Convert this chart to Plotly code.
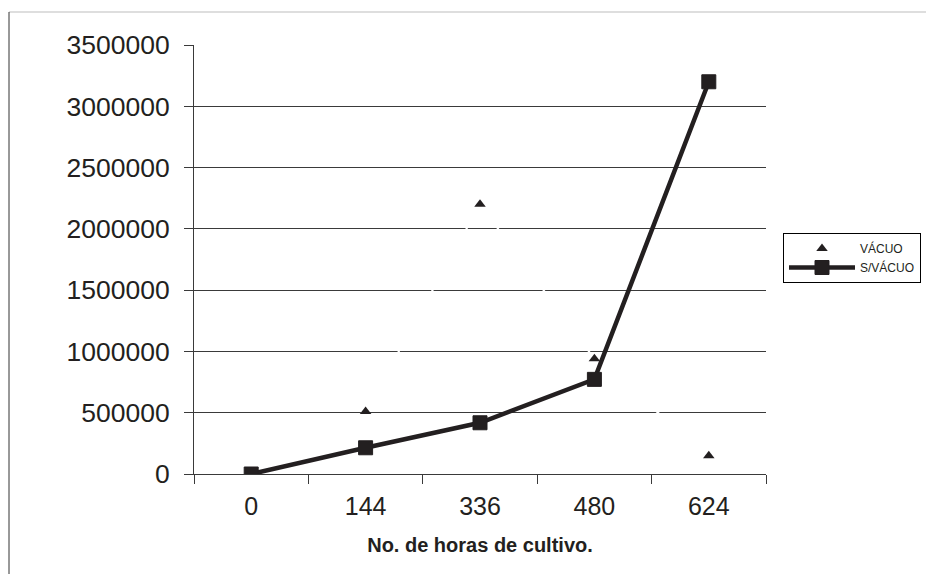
import plotly.graph_objects as go

horas = ["0", "144", "336", "480", "624"]
vacuo = [0, 510000, 2200000, 940000, 148000]
s_vacuo = [0, 214000, 418000, 772000, 3200000]
y_ticks = [0, 500000, 1000000, 1500000, 2000000, 2500000, 3000000, 3500000]

INK = "#231f20"
AX = "#3a3a3a"
FONT = "Liberation Sans, Arial, sans-serif"

fig = go.Figure()
fig.add_trace(go.Scatter(
    x=horas, y=vacuo, name="VÁCUO", mode="lines+markers",
    line=dict(color="white", width=2),
    marker=dict(symbol="triangle-up", size=10, color=INK, line=dict(width=0)),
))
fig.add_trace(go.Scatter(
    x=horas, y=s_vacuo, name="S/VÁCUO", mode="lines+markers",
    line=dict(color=INK, width=4.5),
    marker=dict(symbol="square", size=14, color=INK, line=dict(color=INK, width=1)),
))

# page body has an 8px margin at left/top; work in page coordinates and convert
OFF = 8
W, H = 934 - OFF, 574 - OFF
PL, PR, PT, PB = 194, 766, 45, 474          # plot area in page pixels
L, R, T, B = PL - OFF, W - (PR - OFF), PT - OFF, H - (PB - OFF)
pw, ph = W - L - R, H - T - B

def px(x):
    return (x - OFF - L) / pw

def py(y):
    return (H - B - (y - OFF)) / ph

fig.update_layout(
    width=W, height=H,
    margin=dict(l=L, r=R, t=T, b=B, pad=0),
    paper_bgcolor="white", plot_bgcolor="white",
    font=dict(family=FONT, color=INK),
    showlegend=True,
    legend=dict(
        x=px(783), y=py(233), xanchor="left", yanchor="top",
        bordercolor="black", borderwidth=1, bgcolor="white",
        font=dict(size=12, family=FONT, color=INK),
        itemwidth=66,
        tracegroupgap=0,
    ),
    xaxis=dict(
        type="category", categoryorder="array", categoryarray=horas,
        range=[-0.5, len(horas) - 0.5],
        tickson="boundaries", ticks="outside", ticklen=9, tickcolor=AX, tickwidth=1,
        showline=True, linecolor=AX, linewidth=1, showgrid=False, zeroline=False,
        tickfont=dict(size=25, family=FONT, color=INK),
        ticklabelstandoff=10,
        title=dict(text="<b>No. de horas de cultivo.</b>",
                   font=dict(size=20, family=FONT, color=INK), standoff=18),
    ),
    yaxis=dict(
        range=[0, 3500000], tickvals=y_ticks, tickformat="d",
        ticks="outside", ticklen=9, tickcolor=AX, tickwidth=1,
        showline=True, linecolor=AX, linewidth=1,
        showgrid=True, gridcolor=AX, gridwidth=1, zeroline=False,
        tickfont=dict(size=26.5, family=FONT, color=INK),
        ticklabelstandoff=9,
    ),
    shapes=[
        dict(type="line", xref="paper", yref="paper",
             x0=px(9), x1=px(934), y0=py(12), y1=py(12),
             line=dict(color="#bdbdbd", width=1)),
        dict(type="line", xref="paper", yref="paper",
             x0=px(9), x1=px(9), y0=py(12), y1=py(574),
             line=dict(color="#333333", width=1)),
    ],
)

fig.write_html("out.html")
